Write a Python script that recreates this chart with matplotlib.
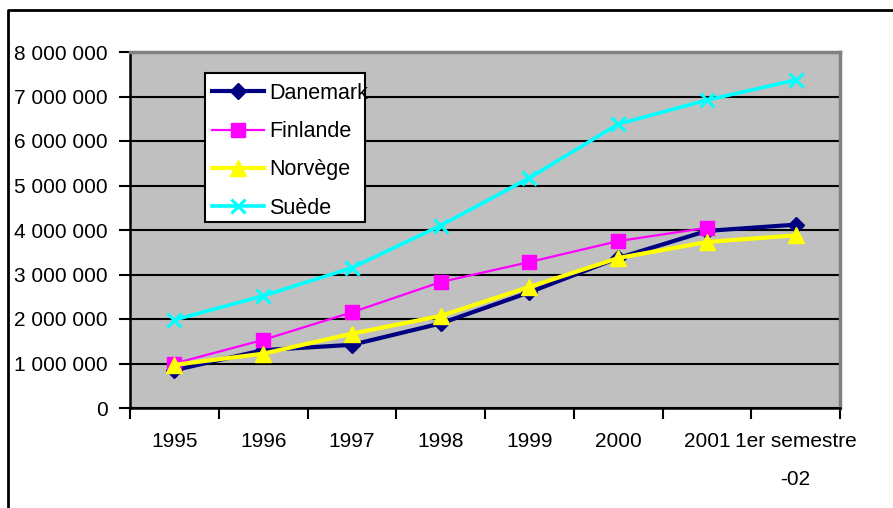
# Ventes par pays nordique, 1995 - 1er semestre 2002
import matplotlib
matplotlib.use("Agg")
import matplotlib.pyplot as plt
from matplotlib.lines import Line2D
from matplotlib.patches import Rectangle
from matplotlib.ticker import FuncFormatter, MultipleLocator
import numpy as np

plt.rcParams['font.family'] = ['Liberation Sans', 'DejaVu Sans']

# catégories de l'axe X
categories = ["1995", "1996", "1997", "1998", "1999", "2000", "2001", "1er semestre\n-02"]

# valeurs
danemark = [850000, 1300000, 1420000, 1900000, 2600000, 3370000, 3980000, 4120000]
finlande = [1000000, 1530000, 2150000, 2830000, 3280000, 3750000, 4050000]
norvege = [970000, 1220000, 1670000, 2070000, 2720000, 3370000, 3730000, 3880000]
suede = [1980000, 2520000, 3150000, 4100000, 5170000, 6380000, 6920000, 7370000]

fig = plt.figure(figsize=(8.93, 5.08), dpi=100)
ax = fig.add_axes([130/893, 1 - 408/508, 710/893, 356/508])
ax.set_facecolor("#C0C0C0")

x = np.arange(len(categories))

ax.plot(x, danemark, color="#000080", lw=3, marker="D", ms=8, label="Danemark", zorder=3)
ax.plot(x[:len(finlande)], finlande, color="#FF00FF", lw=1.6, marker="s", ms=10, label="Finlande", zorder=3)
ax.plot(x, norvege, color="#FFFF00", lw=3, marker="^", ms=12, label="Norvège", zorder=4)
ax.plot(x, suede, color="#00FFFF", lw=2.6, marker="x", ms=10, mew=2.2, label="Suède", zorder=3)

ax.set_xlim(-0.5, len(categories) - 0.5)
ax.set_ylim(0, 8000000)

# axe Y
ax.yaxis.set_major_locator(MultipleLocator(1000000))
ax.yaxis.set_major_formatter(FuncFormatter(lambda v, p: f"{int(v):,}".replace(",", " ")))
ax.grid(axis="y", color="black", lw=1.5)
ax.set_axisbelow(True)

# axe X : graduations entre les catégories
ax.set_xticks(x)
ax.set_xticklabels(categories, linespacing=2.3, va="top")
ax.set_xticks(np.arange(-0.5, len(categories)), minor=True)
ax.tick_params(axis="x", which="major", length=0, pad=17)
ax.tick_params(axis="x", which="minor", length=8, width=1.5, color="black", direction="out")
ax.tick_params(axis="y", length=8, width=1.5, color="black", direction="out", pad=8)
ax.tick_params(labelsize=15)

for s in ["top", "right"]:
    ax.spines[s].set_color("#808080")
    ax.spines[s].set_linewidth(2.5)
for s in ["left", "bottom"]:
    ax.spines[s].set_color("black")
    ax.spines[s].set_linewidth(1.8)

# légende (cadre dessiné à part)
fig.add_artist(Rectangle((205/893, 1 - 222/508), 160/893, 149/508, transform=fig.transFigure,
                         facecolor="white", edgecolor="black", lw=1.5, zorder=5))
leg = ax.legend(loc="upper left", bbox_to_anchor=(212/893, 1 - 83/508),
                bbox_transform=fig.transFigure, fontsize=15.5, frameon=False,
                handlelength=2.4, handletextpad=0.25, labelspacing=0.8,
                borderpad=0, borderaxespad=0)
leg.set_zorder(6)
leg.remove()
fig.add_artist(leg)

# cadre du graphique
fig.add_artist(Line2D([8/893, 8/893, 1.0], [0, 1 - 10/508, 1 - 10/508],
                      color="black", lw=2, transform=fig.transFigure))

fig.savefig("out.png", dpi=100)
